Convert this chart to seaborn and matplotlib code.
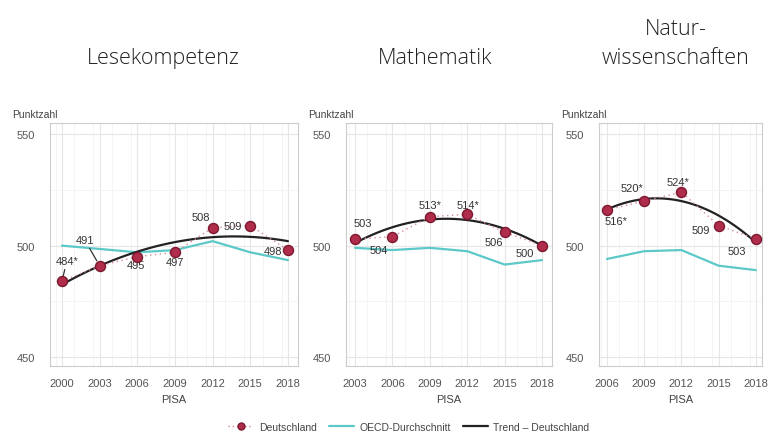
import numpy as np
import pandas as pd
import matplotlib
matplotlib.use("Agg")
import matplotlib.pyplot as plt
from matplotlib.lines import Line2D
from matplotlib.ticker import MultipleLocator
import seaborn as sns

# --- data ---
lese_years = [2000, 2003, 2006, 2009, 2012, 2015, 2018]
lese_de = [484, 491, 495, 497, 508, 509, 498]
lese_oecd = [500, 498.5, 497, 498, 502, 497, 493.5]
lese_labels = ["484*", "491", "495", "497", "508", "509", "498"]

math_years = [2003, 2006, 2009, 2012, 2015, 2018]
math_de = [503, 504, 513, 514, 506, 500]
math_oecd = [499, 498, 499, 497.5, 491.5, 493.5]
math_labels = ["503", "504", "513*", "514*", "506", "500"]

nawi_years = [2006, 2009, 2012, 2015, 2018]
nawi_de = [516, 520, 524, 509, 503]
nawi_oecd = [494, 497.5, 498, 491, 489]
nawi_labels = ["516*", "520*", "524*", "509", "503"]

titles = ["Lesekompetenz", "Mathematik", "Natur-\nwissenschaften"]

# label positions (data coords) and which ones get a leader line
lese_pos = [(2000.4, 493.3), (2001.8, 502.7), (2005.9, 491.3), (2009.0, 492.8),
            (2011.1, 513), (2013.6, 509), (2016.8, 497.8)]
lese_leader = [True, True, False, False, False, False, False]
math_pos = [(2003.6, 510.3), (2004.9, 498.2), (2009.0, 518.0), (2012.1, 518.4),
            (2014.1, 501.8), (2016.6, 496.9)]
nawi_pos = [(2006.7, 511.0), (2008.0, 526.0), (2011.7, 528.7), (2013.6, 507.1),
            (2016.5, 497.8)]

RED = "#b02c4b"
RED_EDGE = "#7c1830"
CYAN = "#5cc8c8"
TREND = "#222222"

W, H = 769, 435
fig = plt.figure(figsize=(W / 100, H / 100), dpi=100)
sns.set_style("white")
plt.rcParams["font.family"] = ["Liberation Sans", "DejaVu Sans"]

# axes boxes in pixels: left, right, x limits
boxes = [(50, 298, 1999.05, 2018.8), (346, 552, 2002.28, 2018.8), (599, 762, 2005.36, 2018.5)]
top_px, bot_px = 124, 367
title_x = [163, 435, 676]

panels = [
    (lese_years, lese_de, lese_oecd, lese_labels, lese_pos, lese_leader),
    (math_years, math_de, math_oecd, math_labels, math_pos, [False] * 6),
    (nawi_years, nawi_de, nawi_oecd, nawi_labels, nawi_pos, [False] * 5),
]

for i, (years, de, oecd, labels, pos, leader) in enumerate(panels):
    l, r, x0, x1 = boxes[i]
    ax = fig.add_axes([l / W, 1 - bot_px / H, (r - l) / W, (bot_px - top_px) / H])
    df = pd.DataFrame({"Jahr": years, "Deutschland": de, "OECD": oecd})

    sns.lineplot(data=df, x="Jahr", y="OECD", color=CYAN, lw=1.6, ax=ax, zorder=2)
    # quadratic trend through the German results
    sns.regplot(data=df, x="Jahr", y="Deutschland", order=2, ci=None, scatter=False,
                line_kws={"color": TREND, "lw": 1.6, "zorder": 3}, ax=ax)
    sns.lineplot(data=df, x="Jahr", y="Deutschland", color="#d58a9a", lw=1.0,
                 linestyle=(0, (1, 2.5)), ax=ax, zorder=3)
    sns.scatterplot(data=df, x="Jahr", y="Deutschland", color=RED, edgecolor=RED_EDGE,
                    linewidth=1.0, s=52, ax=ax, zorder=4)

    for (yr, val, lab, p, lead) in zip(years, de, labels, pos, leader):
        if lead:
            ax.annotate(lab, xy=(yr, val), xytext=p, ha="center", va="center",
                        fontsize=8, color="#333333",
                        arrowprops=dict(arrowstyle="-", color="#333333", lw=0.9,
                                        shrinkA=0.5, shrinkB=4))
        else:
            ax.text(p[0], p[1], lab, ha="center", va="center", fontsize=8, color="#333333")

    ax.set_xlim(x0, x1)
    ax.set_ylim(446, 555)
    ax.set_xticks(years)
    ax.set_xticklabels([str(y) for y in years])
    ax.set_yticks([450, 500, 550])
    ax.xaxis.set_minor_locator(MultipleLocator(1.5))
    ax.yaxis.set_minor_locator(MultipleLocator(25))
    ax.grid(True, which="major", color="#e6e6e6", lw=0.8)
    ax.grid(True, which="minor", color="#f2f2f2", lw=0.6)
    ax.set_axisbelow(True)
    ax.tick_params(axis="both", which="major", labelsize=8, labelcolor="#555555",
                   length=3, color="#bbbbbb", width=0.8)
    ax.tick_params(axis="y", pad=8)
    ax.tick_params(axis="x", pad=6)
    ax.tick_params(which="minor", length=0)
    for sp in ax.spines.values():
        sp.set_color("#cccccc")
        sp.set_linewidth(0.8)
    ax.set_xlabel("PISA", fontsize=8, color="#444444", labelpad=4)
    ax.set_ylabel("")

    fig.text((l - 38) / W, 1 - 118 / H, "Punktzahl", fontsize=7.5, color="#444444",
             ha="left", va="baseline")
    fig.text(title_x[i] / W, 1 - 64 / H, titles[i], fontsize=15.5, color="#222222",
             family=["Open Sans", "DejaVu Sans"], ha="center", va="baseline",
             linespacing=1.5, fontweight="light")

handles = [
    Line2D([], [], color="#d58a9a", lw=1.0, linestyle=(0, (1, 2)), marker="o",
           markerfacecolor=RED, markeredgecolor=RED_EDGE, markersize=5),
    Line2D([], [], color=CYAN, lw=1.6),
    Line2D([], [], color=TREND, lw=1.6),
]
fig.legend(handles, ["Deutschland", "OECD-Durchschnitt", "Trend \u2013 Deutschland"],
           loc="center", bbox_to_anchor=(409 / W, 1 - 428 / H), ncol=3, frameon=False,
           fontsize=7.5, handlelength=2.4, columnspacing=1.2, handletextpad=0.5,
           labelcolor="#444444")

fig.savefig("out.png", dpi=100)
